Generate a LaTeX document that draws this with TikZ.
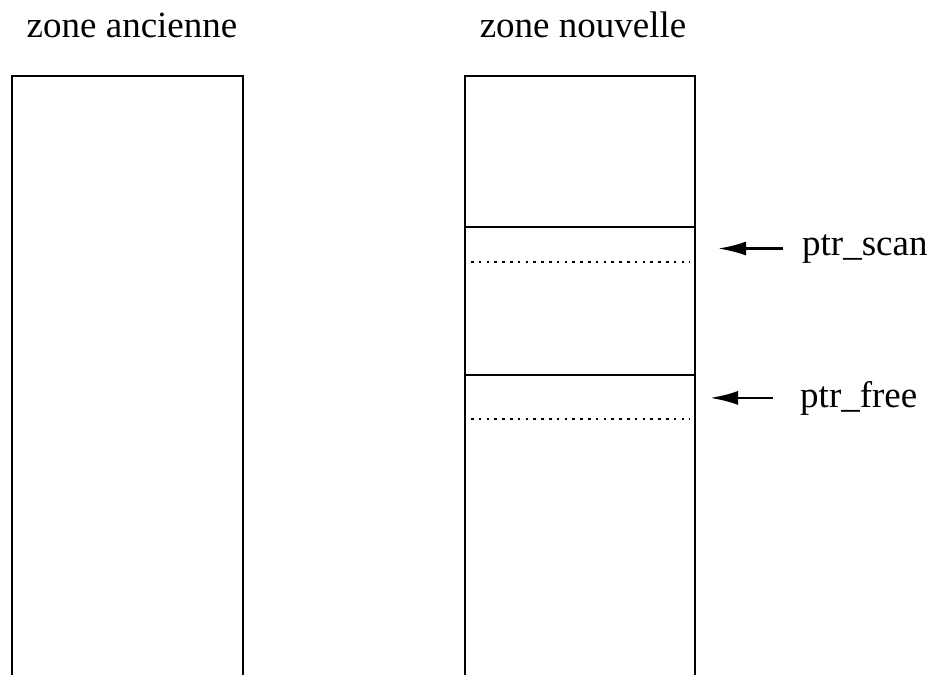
\documentclass[tikz,border=0pt]{standalone}
\usepackage{fontspec}
\setmainfont{Liberation Serif}
\usepackage{tikz}
\usetikzlibrary{arrows.meta}
\tikzstyle{zone} = [draw, line width=2.5pt]
\tikzstyle{objend} = [draw, line width=2.6pt, dash pattern=on 2.6pt off 5.2pt]
\tikzstyle{title} = [font=\fontsize{37}{44}\selectfont, anchor=base, inner sep=0pt]
\tikzstyle{ptrlabel} = [font=\fontsize{37}{44}\selectfont, anchor=base west, inner sep=19pt]
\tikzstyle{ptr} = [draw, line width=2.5pt, -{Latex[length=28pt, width=14pt]}]

\begin{document}
\begin{tikzpicture}[x=1pt, y=-1pt]
        \useasboundingbox (0,0) rectangle (933,675);
        % Place nodes
        \node [title] (old) at (132,37) {zone ancienne};
        \node [title] (new) at (583,37) {zone nouvelle};
        \node [ptrlabel] (scan) at (783,255) {ptr\_scan};
        \node [ptrlabel, inner sep=27pt] (free) at (773,407) {ptr\_free};
        \coordinate (scan_tip) at (718,248);
        \coordinate (free_tip) at (710,400);
        % Draw zones
        \path [zone] (12,675) |- (243,76) -- (243,675);
        \path [zone] (465,675) |- (695,76) -- (695,675);
        \path [zone] (465,227) -- (695,227);
        \path [zone] (465,375) -- (695,375);
        \path [objend] (471,262) -- (690,262);
        \path [objend] (471,419) -- (690,419);
        % Draw edges
        \path [ptr] (scan.west) -- (scan.west -| scan_tip);
        \path [ptr] (free.west) -- (free.west -| free_tip);
    \end{tikzpicture}
\end{document}
